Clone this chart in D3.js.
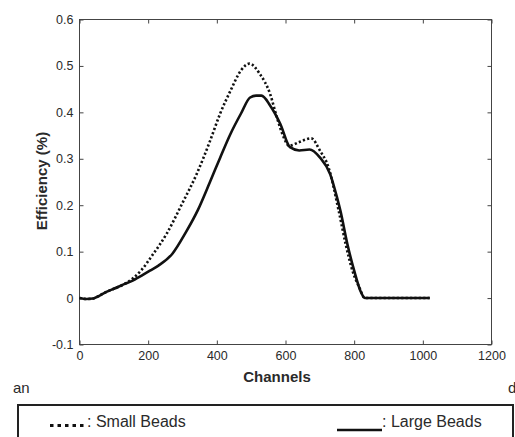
<!DOCTYPE html>
<html><head><meta charset="utf-8">
<script src="https://cdn.jsdelivr.net/npm/d3@7"></script>
<style>body{margin:0;background:#fff}svg{display:block;font-family:"Liberation Sans",Arial,sans-serif}</style>
</head><body>
<script>
const smallChannels = [0,20,40,60,80,100,130,155,180,210,255,300,340,380,410,440,470,495,525,555,575,595,610,640,675,700,725,755,775,795,815,831,900,1020];
const smallValues   = [0,-0.002,-0.001,0.006,0.014,0.02,0.03,0.042,0.06,0.09,0.14,0.205,0.265,0.338,0.398,0.447,0.49,0.505,0.483,0.44,0.389,0.346,0.328,0.336,0.344,0.318,0.282,0.188,0.117,0.059,0.023,0,0,0];
const largeChannels = [0,20,40,60,80,100,130,150,180,205,230,270,310,345,380,410,440,470,497,515,530,555,585,613,640,670,700,730,750,760,780,800,818,831,900,1020];
const largeValues   = [0,-0.002,-0.001,0.006,0.014,0.02,0.03,0.036,0.048,0.059,0.07,0.095,0.142,0.19,0.25,0.303,0.354,0.397,0.432,0.436,0.436,0.415,0.375,0.325,0.318,0.32,0.303,0.267,0.217,0.188,0.117,0.059,0.016,0,0,0];
const xTicks = [0,200,400,600,800,1000,1200];
const yTicks = [-0.1,0,0.1,0.2,0.3,0.4,0.5,0.6];
const yTickLabels = ["-0.1","0","0.1","0.2","0.3","0.4","0.5","0.6"];
const xTitle = "Channels", yTitle = "Efficiency (%)";
const legendLabels = [": Small Beads", ": Large Beads"];

const W=515,H=437;
const svg=d3.select("body").append("svg").attr("width",W).attr("height",H);
const x=d3.scaleLinear().domain([0,1200]).range([79.5,491.5]);
const y=d3.scaleLinear().domain([-0.1,0.6]).range([344.5,19.5]);
const axisCol="#444", txtCol="#2a2a2a";

svg.append("rect").attr("x",x(0)).attr("y",y(0.6)).attr("width",x(1200)-x(0)).attr("height",y(-0.1)-y(0.6))
  .attr("fill","none").attr("stroke",axisCol).attr("stroke-width",1);

const ax=[
 [d3.axisBottom(x).tickValues(xTicks).tickSize(-4).tickPadding(7).tickFormat(d3.format("d")), `translate(0,${y(-0.1)})`],
 [d3.axisTop(x).tickValues(xTicks).tickSize(-4).tickFormat(""), `translate(0,${y(0.6)})`],
 [d3.axisLeft(y).tickValues(yTicks).tickSize(-4).tickPadding(6).tickFormat((d,i)=>yTickLabels[i]), `translate(${x(0)},0)`],
 [d3.axisRight(y).tickValues(yTicks).tickSize(-4).tickFormat(""), `translate(${x(1200)},0)`]
];
ax.forEach(([a,t])=>{
  const g=svg.append("g").attr("transform",t).call(a);
  g.select(".domain").remove();
  g.selectAll("line").attr("stroke",axisCol);
  g.selectAll("text").attr("fill",txtCol).style("font-size","12.5px").style("font-family","Liberation Sans, Arial, sans-serif");
});

svg.append("text").attr("x",277).attr("y",382).attr("text-anchor","middle")
  .style("font-size","15px").style("font-weight","bold").attr("fill",txtCol).text(xTitle);
svg.append("text").attr("transform","translate(47,181) rotate(-90)").attr("text-anchor","middle")
  .style("font-size","15px").style("font-weight","bold").attr("fill",txtCol).text(yTitle);

const line=d3.line().x(d=>x(d[0])).y(d=>y(d[1])).curve(d3.curveMonotoneX);
const large=largeChannels.map((c,i)=>[c,largeValues[i]]);
const small=smallChannels.map((c,i)=>[c,smallValues[i]]);
svg.append("path").attr("d",line(large)).attr("fill","none").attr("stroke","#111").attr("stroke-width",2.6);
svg.append("path").attr("d",line(small)).attr("fill","none").attr("stroke","#111").attr("stroke-width",2.6).attr("stroke-dasharray","2.2,2.2");

svg.append("text").attr("x",13).attr("y",393).style("font-size","15px").attr("fill",txtCol).text("an");
svg.append("text").attr("x",508).attr("y",393).style("font-size","15px").attr("fill",txtCol).text("d");

svg.append("path").attr("d",`M18,${H+5} V405 H513 V${H+5}`).attr("fill","none").attr("stroke","#222").attr("stroke-width",2);
svg.append("line").attr("x1",50).attr("x2",87).attr("y1",425.5).attr("y2",425.5).attr("stroke","#111").attr("stroke-width",3).attr("stroke-dasharray","3.5,4");
svg.append("text").attr("x",87).attr("y",427).style("font-size","16px").attr("fill",txtCol).text(legendLabels[0]);
svg.append("line").attr("x1",337).attr("x2",382).attr("y1",430).attr("y2",430).attr("stroke","#111").attr("stroke-width",2.5);
svg.append("text").attr("x",382).attr("y",427).style("font-size","16px").attr("fill",txtCol).text(legendLabels[1]);
</script>
</body></html>
